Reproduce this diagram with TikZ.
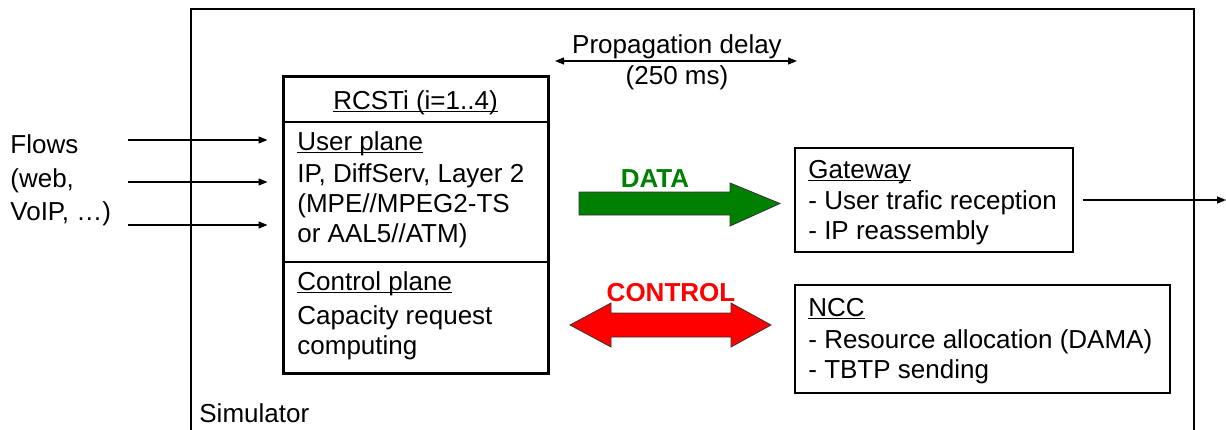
\documentclass[tikz,border=0pt]{standalone}
\usepackage{fontspec}
\setmainfont{Liberation Sans}
\usetikzlibrary{arrows.meta}
\definecolor{dgreen}{RGB}{0,128,0}
\definecolor{dred}{RGB}{255,0,0}
\newcommand\myul[1]{\setbox0\hbox{#1}\rlap{\rule[-1.6pt]{\wd0}{0.8pt}}\box0}
\tikzset{
  txt/.style={anchor=base west, inner sep=0pt, font=\fontsize{13pt}{16pt}\selectfont},
  ctxt/.style={anchor=base, inner sep=0pt, font=\fontsize{13pt}{16pt}\selectfont},
  thickbox/.style={draw, line width=1.5pt, inner sep=0pt},
  thinbox/.style={draw, line width=0.8pt, inner sep=0pt},
  flowarrow/.style={line width=0.6pt, -{Triangle[length=4.5pt,width=3.5pt]}},
  bigarrow/.style={draw=black!80, line width=0.4pt},
}
\begin{document}
\begin{tikzpicture}[x=0.5pt,y=-0.5pt]
\useasboundingbox (0,0) rectangle (1226,429);
% simulator frame
\draw[line width=0.8pt] (191,440) -- (191,9) -- (1194,9) -- (1194,440);
\node[txt] (sim) at (199,422) {Simulator};

% flows
\node[txt] (f1) at (10,153) {Flows};
\node[txt] (f2) at (10,187) {(web,};
\node[txt] (f3) at (10,220) {VoIP, \dots)};

% RCST box
\node[thickbox, minimum width=132.5pt, minimum height=148.5pt] (rcst) at (415.5,224.5) {};
\draw[line width=0.8pt] (rcst.west |- 0,122) -- (rcst.east |- 0,122);
\draw[line width=0.8pt] (rcst.west |- 0,262) -- (rcst.east |- 0,262);
\node[ctxt] (rt) at (415.5,109) {\myul{RCSTi (i=1..4)}};
\node[txt] (up) at (297,150) {\myul{User plane}};
\node[txt] (u1) at (297,182) {IP, DiffServ, Layer 2};
\node[txt] (u2) at (297,212) {(MPE//MPEG2-TS};
\node[txt] (u3) at (297,242) {or AAL5//ATM)};
\node[txt] (cp) at (297,290) {\myul{Control plane}};
\node[txt] (c1) at (297,324) {Capacity request};
\node[txt] (c2) at (297,354) {computing};

\coordinate (a1) at (128,140);
\coordinate (a2) at (128,182);
\coordinate (a3) at (128,225);
\draw[flowarrow] (a1) -- ([xshift=-7pt]a1 -| rcst.west);
\draw[flowarrow] (a2) -- ([xshift=-7pt]a2 -| rcst.west);
\draw[flowarrow] (a3) -- ([xshift=-7pt]a3 -| rcst.west);

% propagation delay
\coordinate (p1) at (555,61);
\coordinate (p2) at (797,61);
\draw[line width=0.6pt, {Triangle[length=4.5pt,width=3.5pt]}-{Triangle[length=4.5pt,width=3.5pt]}] (p1) -- (p2);
\node[ctxt] (pd) at (677,53) {Propagation delay};
\node[ctxt] (pm) at (677,84) {(250 ms)};

% DATA arrow
\fill[dgreen, bigarrow] (579,192) -- (730,192) -- (730,183) -- (780,203.5) -- (730,226) -- (730,215) -- (579,215) -- cycle;
\node[ctxt, text=dgreen, font=\fontsize{13pt}{16pt}\selectfont\bfseries] (data) at (655,187) {DATA};

% CONTROL arrow
\fill[dred, bigarrow] (570,325) -- (611,303) -- (611,313) -- (731,313) -- (731,303) -- (771,325) -- (731,347) -- (731,337) -- (611,337) -- (611,347) -- cycle;
\node[ctxt, text=dred, font=\fontsize{13pt}{16pt}\selectfont\bfseries] (ctrl) at (671,301) {CONTROL};

% Gateway
\node[thinbox, minimum width=139pt, minimum height=52pt] (gw) at (934,200) {};
\node[txt] (g0) at (808,178) {\myul{Gateway}};
\node[txt] (g1) at (808,209) {- User trafic reception};
\node[txt] (g2) at (808,239) {- IP reassembly};
\coordinate (out) at (1226,200);
\draw[flowarrow] ([xshift=4.5pt]gw.east) -- (out);

% NCC
\node[thinbox, minimum width=187.5pt, minimum height=54pt] (ncc) at (982.5,339) {};
\node[txt] (n0) at (808,316) {\myul{NCC}};
\node[txt] (n1) at (808,348) {- Resource allocation (DAMA)};
\node[txt] (n2) at (808,378) {- TBTP sending};
\end{tikzpicture}
\end{document}
